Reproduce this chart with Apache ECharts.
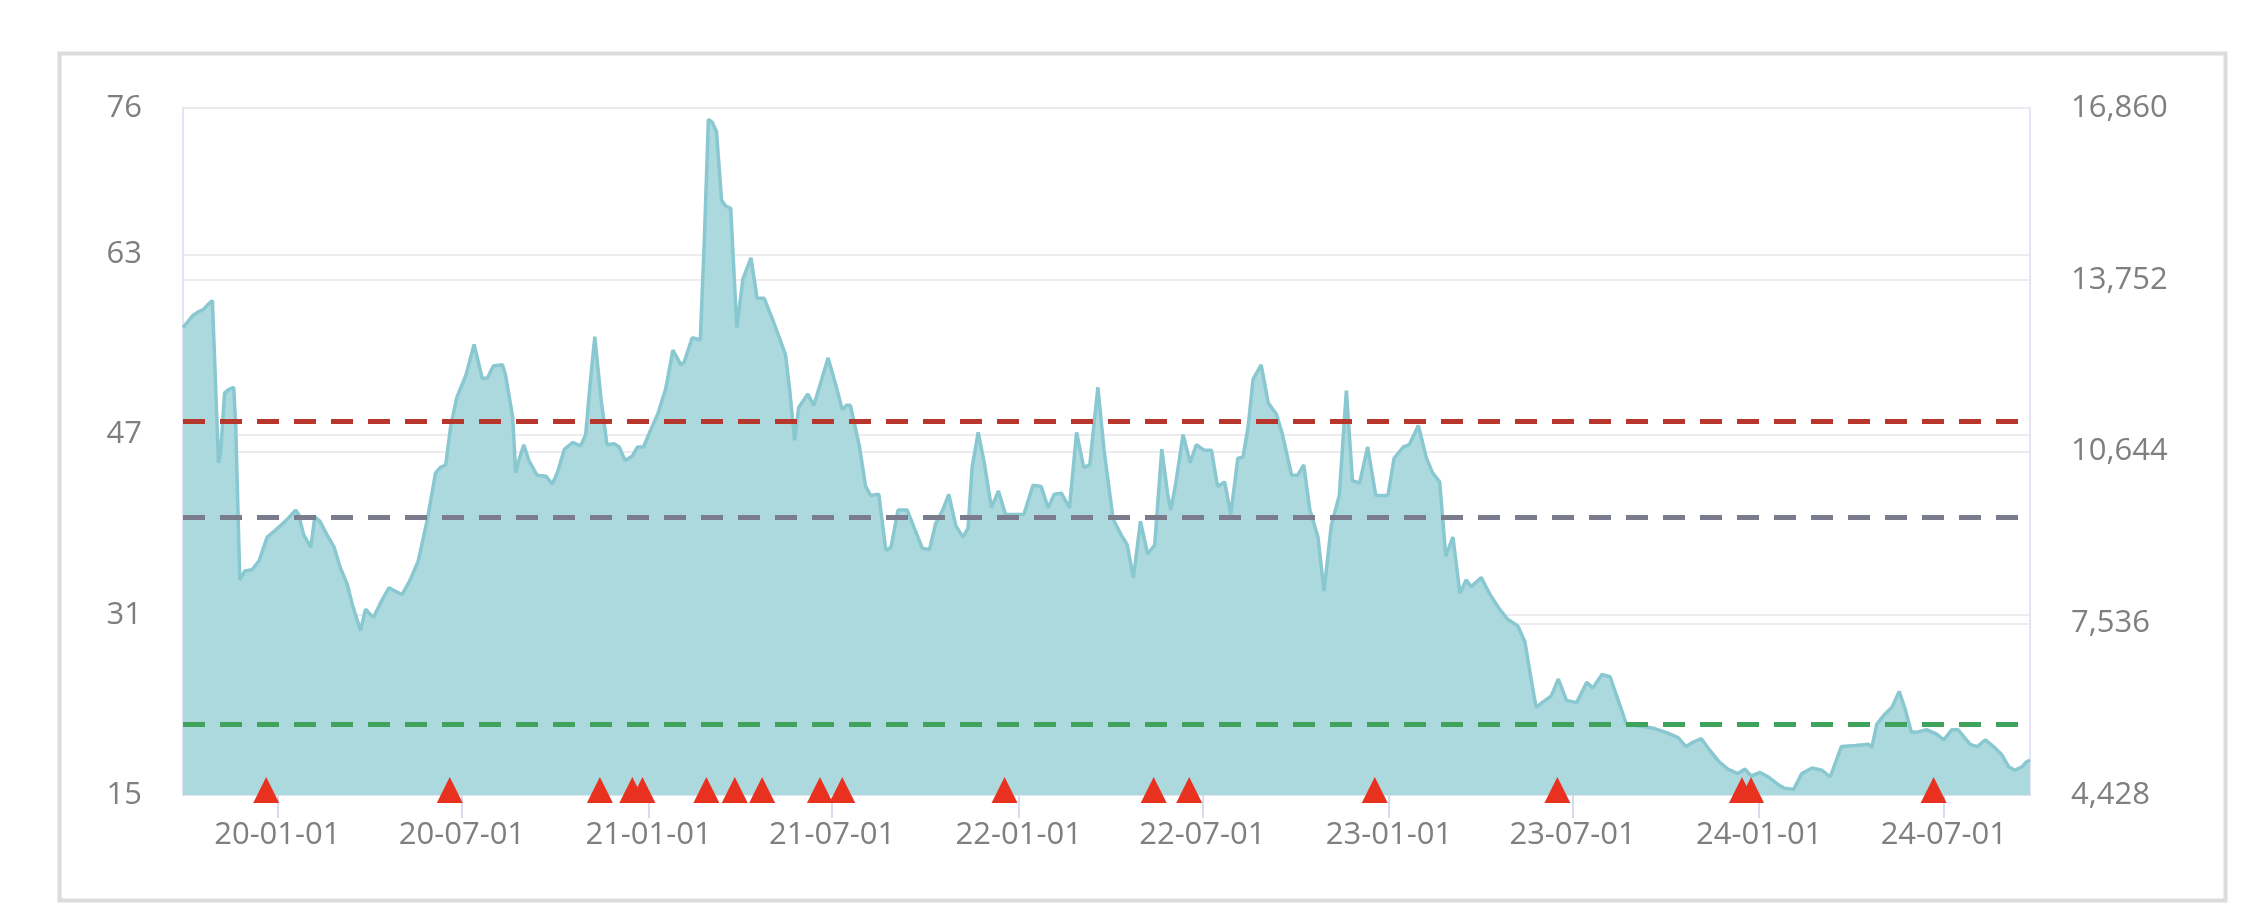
<!DOCTYPE html>
<html>
<head>
<meta charset="utf-8">
<script src="https://cdn.jsdelivr.net/npm/echarts@6/dist/echarts.min.js"></script>
<style>
  html, body { margin: 0; padding: 0; background: #ffffff; }
  #chart { width: 2268px; height: 920px; }
</style>
</head>
<body>
<div id="chart"></div>
<script>
// ---- data ----
const dates = [
'2019-09-30','2019-10-10','2019-10-15','2019-10-20','2019-10-24','2019-10-29','2019-11-04','2019-11-06','2019-11-10','2019-11-14',
'2019-11-19','2019-11-21','2019-11-25','2019-11-30','2019-12-07','2019-12-14','2019-12-22','2019-12-30','2020-01-04','2020-01-11',
'2020-01-19','2020-01-22','2020-01-27','2020-02-03','2020-02-07','2020-02-12','2020-02-19','2020-02-26','2020-03-03','2020-03-10',
'2020-03-15','2020-03-23','2020-03-28','2020-04-02','2020-04-05','2020-04-12','2020-04-20','2020-04-26','2020-05-03','2020-05-11',
'2020-05-19','2020-05-28','2020-06-05','2020-06-10','2020-06-15','2020-06-20','2020-06-26','2020-07-05','2020-07-13','2020-07-21',
'2020-07-26','2020-08-01','2020-08-10','2020-08-13','2020-08-20','2020-08-23','2020-08-26','2020-08-31','2020-09-05','2020-09-13',
'2020-09-22','2020-09-28','2020-10-03','2020-10-10','2020-10-18','2020-10-26','2020-10-31','2020-11-04','2020-11-09','2020-11-15',
'2020-11-21','2020-11-28','2020-12-03','2020-12-09','2020-12-16','2020-12-21','2020-12-27','2021-01-03','2021-01-10','2021-01-18',
'2021-01-25','2021-02-02','2021-02-05','2021-02-13','2021-02-21','2021-02-25','2021-03-01','2021-03-05','2021-03-09','2021-03-14',
'2021-03-18','2021-03-23','2021-03-29','2021-04-04','2021-04-12','2021-04-18','2021-04-25','2021-05-03','2021-05-10','2021-05-16',
'2021-05-20','2021-05-25','2021-05-29','2021-06-07','2021-06-13','2021-06-20','2021-06-27','2021-07-05','2021-07-11','2021-07-15',
'2021-07-19','2021-07-28','2021-08-03','2021-08-08','2021-08-16','2021-08-23','2021-08-28','2021-09-04','2021-09-13','2021-09-20',
'2021-09-28','2021-10-05','2021-10-11','2021-10-18','2021-10-24','2021-10-31','2021-11-07','2021-11-12','2021-11-16','2021-11-22',
'2021-11-28','2021-12-05','2021-12-12','2021-12-19','2021-12-28','2022-01-06','2022-01-15','2022-01-23','2022-01-30','2022-02-05',
'2022-02-12','2022-02-20','2022-02-27','2022-03-06','2022-03-12','2022-03-20','2022-03-26','2022-04-04','2022-04-12','2022-04-18',
'2022-04-24','2022-05-01','2022-05-08','2022-05-15','2022-05-22','2022-05-28','2022-05-31','2022-06-05','2022-06-12','2022-06-19',
'2022-06-25','2022-07-03','2022-07-10','2022-07-16','2022-07-23','2022-07-29','2022-08-05','2022-08-10','2022-08-15','2022-08-20',
'2022-08-28','2022-09-04','2022-09-12','2022-09-18','2022-09-27','2022-10-03','2022-10-09','2022-10-15','2022-10-23','2022-10-29',
'2022-11-05','2022-11-13','2022-11-20','2022-11-26','2022-12-03','2022-12-11','2022-12-19','2022-12-31','2023-01-06','2023-01-15',
'2023-01-21','2023-01-30','2023-02-07','2023-02-13','2023-02-20','2023-02-26','2023-03-05','2023-03-12','2023-03-18','2023-03-23',
'2023-04-02','2023-04-10','2023-04-20','2023-04-28','2023-05-08','2023-05-15','2023-05-20','2023-05-26','2023-06-04','2023-06-10',
'2023-06-17','2023-06-25','2023-07-05','2023-07-15','2023-07-21','2023-07-30','2023-08-07','2023-08-15','2023-08-23','2023-09-07',
'2023-09-20','2023-10-03','2023-10-13','2023-10-21','2023-10-28','2023-11-05','2023-11-13','2023-11-22','2023-12-01','2023-12-11',
'2023-12-18','2023-12-24','2024-01-02','2024-01-10','2024-01-20','2024-01-26','2024-02-04','2024-02-12','2024-02-22','2024-03-03',
'2024-03-11','2024-03-22','2024-04-05','2024-04-18','2024-04-21','2024-04-26','2024-05-04','2024-05-11','2024-05-18','2024-05-24',
'2024-05-30','2024-06-06','2024-06-14','2024-06-24','2024-07-01','2024-07-09','2024-07-15','2024-07-27','2024-08-03','2024-08-11',
'2024-08-19','2024-08-27','2024-09-03','2024-09-09','2024-09-16','2024-09-20','2024-09-24'
];
const values = [
56.5,57.6,57.9,58.1,58.5,58.9,44.5,45.3,50.7,51.0,
51.2,47.8,34.1,34.9,35.0,35.8,37.9,38.5,38.9,39.5,
40.3,39.9,38.1,37.0,39.7,39.3,38.1,37.0,35.2,33.7,
31.9,29.6,31.5,31.0,30.8,32.1,33.4,33.1,32.8,34.1,
35.8,39.5,43.6,44.1,44.3,47.8,50.3,52.3,55.0,52.0,
52.0,53.1,53.2,52.3,48.6,43.6,44.7,46.1,44.7,43.4,
43.3,42.6,43.6,45.7,46.3,46.0,47.0,51.1,55.7,50.3,
46.1,46.2,45.9,44.7,45.1,45.9,45.9,47.4,48.8,51.1,
54.5,53.2,53.4,55.6,55.4,64.3,75.0,74.7,73.9,67.8,
67.3,67.1,56.5,60.8,62.7,59.1,59.1,57.3,55.6,54.1,
51.1,46.5,49.4,50.6,49.6,51.7,53.8,51.3,49.2,49.6,
49.6,45.9,42.4,41.6,41.7,36.7,37.0,40.3,40.3,38.7,
36.9,36.8,39.1,40.3,41.7,38.9,37.9,38.7,44.1,47.2,
44.5,40.5,42.0,39.9,39.9,39.9,42.5,42.4,40.5,41.7,
41.8,40.5,47.2,44.1,44.3,51.2,45.7,39.5,38.1,37.2,
34.3,39.3,36.4,37.2,45.7,41.6,40.3,42.8,47.0,44.5,
46.1,45.6,45.6,42.4,42.8,39.9,44.9,45.0,47.6,51.9,
53.2,49.8,48.8,47.0,43.4,43.4,44.3,40.3,37.9,33.1,
38.9,41.6,50.9,42.9,42.7,45.9,41.6,41.6,44.9,45.9,
46.1,47.8,44.9,43.6,42.8,36.2,37.9,32.9,34.1,33.5,
34.3,32.9,31.5,30.6,30.0,28.6,25.9,22.8,23.4,23.8,
25.3,23.4,23.2,25.0,24.5,25.7,25.5,23.4,21.3,21.1,
20.9,20.5,20.1,19.3,19.7,20.0,19.0,18.0,17.3,16.9,
17.3,16.7,17.0,16.6,15.9,15.6,15.5,16.9,17.4,17.2,
16.6,19.3,19.4,19.5,19.2,21.3,22.2,22.8,24.2,22.6,
20.6,20.6,20.8,20.4,19.9,20.8,20.8,19.5,19.3,19.9,
19.3,18.6,17.5,17.2,17.5,17.9,18.1
];
const signalDates = [
'2019-12-21','2020-06-19','2020-11-14','2020-12-16','2020-12-26','2021-02-27','2021-03-27','2021-04-23','2021-06-19',
'2021-07-11','2021-12-18','2022-05-14','2022-06-18','2022-12-18','2023-06-16','2023-12-15','2023-12-24','2024-06-21'
];
const leftTicks = [15, 31, 47, 63, 76];
const rightTicks = [4428, 7536, 10644, 13752, 16860];
const highLine = 48.2;
const midLine = 39.7;
const lowLine = 21.3;

// ---- chart ----
const chart = echarts.init(document.getElementById('chart'), null, { renderer: 'canvas' });
const FONT = 'Open Sans';
const labelColor = '#7f7f7f';

const seriesData = dates.map((d, i) => [d, values[i]]);
const signalData = signalDates.map(d => [d, leftTicks[0]]);

const option = {
  animation: false,
  backgroundColor: '#ffffff',
  graphic: [{
    type: 'rect',
    left: 57, top: 51,
    shape: { width: 2166, height: 847 },
    style: { fill: 'none', stroke: '#dcdcdc', lineWidth: 4 },
    z: -1, silent: true
  }],
  grid: { left: 183, right: 238, top: 108, bottom: 125, containLabel: false },
  xAxis: {
    type: 'time',
    min: dates[0],
    max: dates[dates.length - 1],
    splitNumber: 10,
    boundaryGap: false,
    axisLine: { show: true, lineStyle: { color: '#dfe4f0', width: 2 } },
    axisTick: { show: true, length: 23, lineStyle: { color: '#d6dcee', width: 2 } },
    axisLabel: { formatter: '{yy}-{MM}-{dd}', color: labelColor, fontSize: 31, fontFamily: FONT, margin: 25 },
    splitLine: { show: false }
  },
  yAxis: [{
    type: 'value',
    position: 'left',
    min: leftTicks[0],
    max: leftTicks[leftTicks.length - 1],
    axisLine: { show: true, lineStyle: { color: '#e3e6f2', width: 2 } },
    axisTick: { show: false, customValues: leftTicks },
    axisLabel: { customValues: leftTicks, color: labelColor, fontSize: 31, fontFamily: FONT, margin: 41 },
    splitLine: { show: true, lineStyle: { color: '#ececf0', width: 2 } }
  }, {
    type: 'value',
    position: 'right',
    min: rightTicks[0],
    max: rightTicks[rightTicks.length - 1],
    axisLine: { show: true, lineStyle: { color: '#e3e6f2', width: 2 } },
    axisTick: { show: false, customValues: rightTicks },
    axisLabel: {
      customValues: rightTicks, color: labelColor, fontSize: 31, fontFamily: FONT, margin: 41,
      formatter: v => Number(v).toLocaleString('en-US')
    },
    splitLine: { show: true, lineStyle: { color: '#ececf0', width: 2 } }
  }],
  series: [{
    type: 'line',
    yAxisIndex: 0,
    data: seriesData,
    showSymbol: false,
    symbol: 'none',
    lineStyle: { color: '#89c7d1', width: 3.5 },
    areaStyle: { color: '#acd9de', opacity: 1 },
    z: 2,
    markLine: {
      silent: true,
      symbol: ['none', 'none'],
      label: { show: false },
      animation: false,
      data: [
        { yAxis: highLine, lineStyle: { color: '#b8372c', width: 5, type: [22, 15] } },
        { yAxis: midLine, lineStyle: { color: '#7a7b8c', width: 5, type: [22, 15] } },
        { yAxis: lowLine, lineStyle: { color: '#40a35c', width: 5, type: [22, 15] } }
      ]
    }
  }, {
    type: 'scatter',
    yAxisIndex: 0,
    data: signalData,
    symbol: 'triangle',
    symbolSize: 26,
    symbolOffset: [0, -5],
    itemStyle: { color: '#e8321f', opacity: 1 },
    clip: false,
    z: 5
  }]
};
chart.setOption(option);
</script>
</body>
</html>
